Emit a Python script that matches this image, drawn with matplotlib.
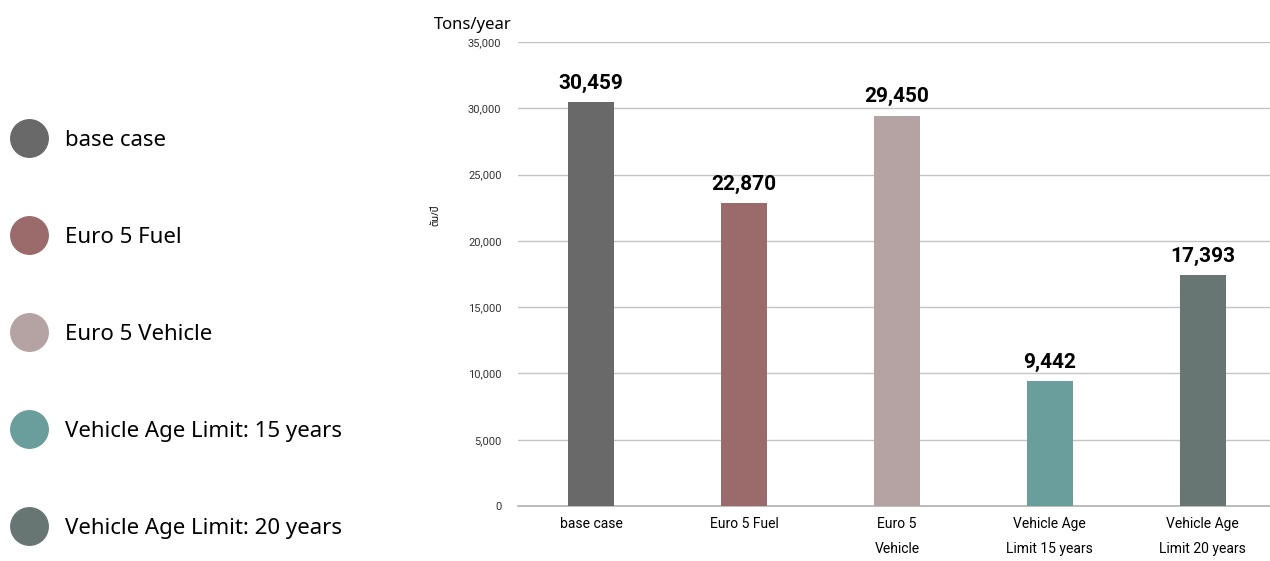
import matplotlib
matplotlib.use("Agg")
import matplotlib.pyplot as plt
from matplotlib.lines import Line2D
from matplotlib.ticker import FuncFormatter

# emissions per scenario, tons per year
scenarios = ["base case", "Euro 5 Fuel", "Euro 5 Vehicle",
             "Vehicle Age Limit: 15 years", "Vehicle Age Limit: 20 years"]
tick_labels = ["base case", "Euro 5 Fuel", "Euro 5\nVehicle",
               "Vehicle Age\nLimit 15 years", "Vehicle Age\nLimit 20 years"]
emissions = [30459, 22870, 29450, 9442, 17393]
colors = ["#696969", "#9b6b6b", "#b5a2a2", "#6a9e9c", "#687673"]

narrow = ["Roboto", "DejaVu Sans"]
plt.rcParams["font.family"] = ["Noto Sans", "DejaVu Sans"]

fig = plt.figure(figsize=(12.7, 5.61), dpi=100)
ax = fig.add_axes([0.408, 0.098, 0.592, 0.827])

x = range(len(emissions))
ax.bar(x, emissions, width=0.3, color=colors, zorder=3)
for i, v in enumerate(emissions):
    ax.text(i, v + 700, f"{v:,}", ha="center", va="bottom",
            fontsize=15, fontweight="bold", family=narrow)

ax.set_xlim(-0.477, 4.44)
ax.set_ylim(0, 35000)
ax.set_yticks(range(0, 35001, 5000))
ax.yaxis.set_major_formatter(FuncFormatter(lambda v, p: f"{int(v):,}"))
ax.set_xticks(list(x))
ax.set_xticklabels(tick_labels, linespacing=2.0)
for lab in ax.get_xticklabels():
    lab.set_family(narrow)
    lab.set_fontsize(10)
    lab.set_va("top")
for lab in ax.get_yticklabels():
    lab.set_family(narrow)
    lab.set_fontsize(8)
    lab.set_color("#333333")
ax.tick_params(length=0, pad=12)
ax.tick_params(axis="x", pad=8)
ax.grid(axis="y", color="#c4c4c4", linewidth=1, zorder=0)
for side in ["left", "right", "top"]:
    ax.spines[side].set_visible(False)
ax.spines["bottom"].set_color("#b0b0b0")
ax.spines["bottom"].set_linewidth(1.2)

ax.set_ylabel("ตัน/ปี", fontsize=7,
              family=["Noto Sans Thai", "Loma", "Garuda", "Tlwg Typo", "DejaVu Sans"])
ax.yaxis.set_label_coords(-0.104, 0.627)
fig.text(0.342, 0.955, "Tons/year", fontsize=12, ha="left", va="center")

handles = [Line2D([], [], marker="o", linestyle="none", markersize=27,
                  markerfacecolor=c, markeredgecolor=c) for c in colors]
fig.legend(handles, scenarios, loc="upper left", bbox_to_anchor=(-0.004, 0.80),
           frameon=False, fontsize=16, labelspacing=3.42, handletextpad=0.85,
           borderpad=0.3, handlelength=1.5)

fig.savefig("out.png", dpi=100)
